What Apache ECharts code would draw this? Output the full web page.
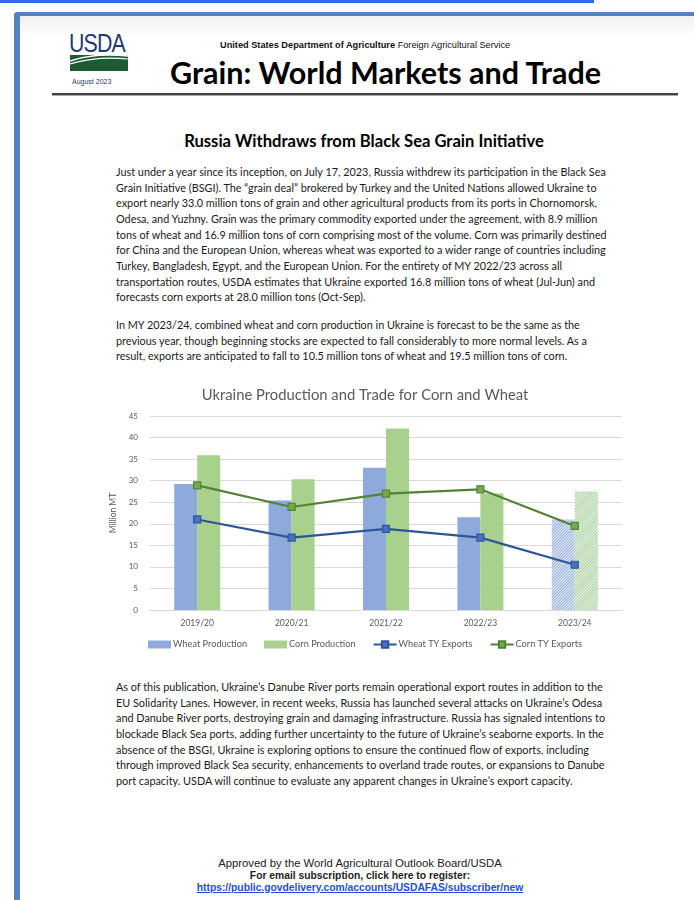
<!DOCTYPE html>
<html>
<head>
<meta charset="utf-8">
<script src="https://cdn.jsdelivr.net/npm/echarts@6/dist/echarts.min.js"></script>
<style>
  html, body { margin:0; padding:0; width:694px; height:900px; overflow:hidden; background:#fff; }
  body { position:relative; font-family: Lato, "Open Sans", sans-serif; color:#1a1a1a; }
  .abs { position:absolute; white-space:nowrap; }
  #topline { left:0; top:0; width:594px; height:3px; background:#3366ff; }
  #frame { left:14px; top:12px; width:700px; height:900px; border-left:6px solid #5183c1; border-top:4px solid #5183c1; border-top-left-radius:4px; box-sizing:border-box;
           background:linear-gradient(#f1f1f1, #fff 22px); }
  #usda { left:69px; top:28px; font-family:"Liberation Sans", Arial, sans-serif; font-size:26px; color:#1f3b6f; letter-spacing:-1px; transform:scaleX(0.82); transform-origin:left top; }
  #logo { left:70px; top:55px; }
  #aug { left:72px; top:78px; font-family:"Liberation Sans", Arial, sans-serif; font-size:7px; color:#1f3b6f; }
  #dept { left:220px; top:40px; font-family:"Liberation Sans", Arial, sans-serif; font-size:9.3px; color:#111; transform:scaleX(0.99); transform-origin:left top; }
  #gtitle { left:170px; top:54px; font-family:Lato, sans-serif; font-weight:bold; font-size:30.5px; color:#000; }
  #rule { left:52px; top:93px; width:626px; height:2px; background:#444; border-bottom:1px solid #aaa; }
  #htitle { left:0; width:694px; top:131px; text-align:center; font-weight:bold; font-size:16.6px; color:#000; padding-left:34px; box-sizing:border-box; }
  .para { left:116px; font-size:10.85px; line-height:15.65px; }
  #foot { left:0; width:694px; top:858px; text-align:center; font-family:"Liberation Sans", Arial, sans-serif; font-size:10.3px; line-height:11.8px; color:#222; padding-left:26px; box-sizing:border-box; }
  #foot .first { font-size:11.3px; }
  #foot a { color:#1f4fd6; font-weight:bold; }
  #chart { position:absolute; left:100px; top:378px; width:530px; height:282px; }
</style>
</head>
<body>
<div class="abs" id="topline"></div>
<div class="abs" id="frame"></div>
<div class="abs" id="usda">USDA</div>
<svg class="abs" id="logo" width="58" height="16" viewBox="0 0 58 16">
  <rect x="0" y="0" width="58" height="16" fill="#1e5a34"/>
  <path d="M0 6 C 18 0, 38 -1, 58 1" stroke="#fff" stroke-width="1.6" fill="none"/>
  <path d="M0 9 C 20 3, 40 2, 58 4" stroke="#fff" stroke-width="1.2" fill="none"/>
</svg>
<div class="abs" id="aug">August 2023</div>
<div class="abs" id="dept"><b>United States Department of Agriculture</b> Foreign Agricultural Service</div>
<div class="abs" id="gtitle">Grain: World Markets and Trade</div>
<div class="abs" id="rule"></div>
<div class="abs" id="htitle">Russia Withdraws from Black Sea Grain Initiative</div>

<div class="abs para" style="top:164px">Just under a year since its inception, on July 17, 2023, Russia withdrew its participation in the Black Sea<br>Grain Initiative (BSGI). The “grain deal” brokered by Turkey and the United Nations allowed Ukraine to<br>export nearly 33.0 million tons of grain and other agricultural products from its ports in Chornomorsk,<br>Odesa, and Yuzhny. Grain was the primary commodity exported under the agreement, with 8.9 million<br>tons of wheat and 16.9 million tons of corn comprising most of the volume. Corn was primarily destined<br>for China and the European Union, whereas wheat was exported to a wider range of countries including<br>Turkey, Bangladesh, Egypt, and the European Union. For the entirety of MY 2022/23 across all<br>transportation routes, USDA estimates that Ukraine exported 16.8 million tons of wheat (Jul-Jun) and<br>forecasts corn exports at 28.0 million tons (Oct-Sep).</div>

<div class="abs para" style="top:317px">In MY 2023/24, combined wheat and corn production in Ukraine is forecast to be the same as the<br>previous year, though beginning stocks are expected to fall considerably to more normal levels. As a<br>result, exports are anticipated to fall to 10.5 million tons of wheat and 19.5 million tons of corn.</div>

<div id="chart"></div>

<div class="abs para" style="top:679px">As of this publication, Ukraine’s Danube River ports remain operational export routes in addition to the<br>EU Solidarity Lanes. However, in recent weeks, Russia has launched several attacks on Ukraine’s Odesa<br>and Danube River ports, destroying grain and damaging infrastructure. Russia has signaled intentions to<br>blockade Black Sea ports, adding further uncertainty to the future of Ukraine’s seaborne exports. In the<br>absence of the BSGI, Ukraine is exploring options to ensure the continued flow of exports, including<br>through improved Black Sea security, enhancements to overland trade routes, or expansions to Danube<br>port capacity. USDA will continue to evaluate any apparent changes in Ukraine’s export capacity.</div>

<div class="abs" id="foot"><span class="first">Approved by the World Agricultural Outlook Board/USDA</span><br><b>For email subscription, click here to register:</b><br><a href="#">https://public.govdelivery.com/accounts/USDAFAS/subscriber/new</a></div>

<script>
var years = ['2019/20', '2020/21', '2021/22', '2022/23', '2023/24'];
var wheatProduction = [29.2, 25.4, 33.0, 21.5, 21.0];
var cornProduction = [35.9, 30.3, 42.1, 27.0, 27.5];
var wheatExports = [21.0, 16.8, 18.8, 16.8, 10.5];
var cornExports = [28.9, 23.9, 27.0, 28.0, 19.5];
var forecastYear = '2023/24';

var txt = '#595959';
var fnt = 'Lato, "Open Sans", sans-serif';

// forecast year gets the hatched look
function barData(values, color)
{
	return values.map(function (v, i) {
		if (years[i] !== forecastYear) return v;
		return {
			value: v,
			itemStyle: {
				color: '#eef3fa',
				decal: {
					symbol: 'rect',
					symbolSize: 1,
					dashArrayX: [[1, 0]],
					dashArrayY: [1, 1],
					rotation: -Math.PI / 4,
					color: color
				}
			}
		};
	});
}

var option = {
	animation: false,
	title: {
		text: 'Ukraine Production and Trade for Corn and Wheat',
		left: 'center',
		top: 5,
		textStyle: { color: txt, fontFamily: fnt, fontSize: 14.8, fontWeight: 'normal' }
	},
	legend: {
		bottom: 6,
		left: 'center',
		itemGap: 17,
		itemWidth: 23,
		itemHeight: 8,
		textStyle: { color: txt, fontFamily: fnt, fontSize: 9.2, padding: [0, 0, 0, -3] },
		data: [
			{ name: 'Wheat Production', icon: 'rect' },
			{ name: 'Corn Production', icon: 'rect' },
			'Wheat TY Exports',
			'Corn TY Exports'
		]
	},
	grid: { left: 50, right: 8, top: 38, bottom: 50 },
	xAxis: {
		type: 'category',
		data: years,
		axisTick: { show: false },
		axisLine: { lineStyle: { color: '#d9d9d9', width: 1 } },
		axisLabel: { color: txt, fontFamily: fnt, fontSize: 8.5, margin: 9 }
	},
	yAxis: {
		type: 'value',
		min: 0,
		max: 45,
		interval: 5,
		name: 'Million MT',
		nameLocation: 'middle',
		nameGap: 27,
		nameTextStyle: { color: txt, fontFamily: fnt, fontSize: 8.5 },
		axisLine: { show: false },
		axisTick: { show: false },
		axisLabel: { color: txt, fontFamily: fnt, fontSize: 8, margin: 12 },
		splitLine: { lineStyle: { color: '#d9d9d9', width: 1 } }
	},
	series: [
		{
			name: 'Wheat Production',
			type: 'bar',
			barWidth: 23,
			barGap: '0%',
			itemStyle: { color: '#8eaadb' },
			data: barData(wheatProduction, '#8eaadb')
		},
		{
			name: 'Corn Production',
			type: 'bar',
			barWidth: 23,
			barGap: '0%',
			itemStyle: { color: '#a9d18e' },
			data: barData(cornProduction, '#a9d18e')
		},
		{
			name: 'Wheat TY Exports',
			type: 'line',
			symbol: 'rect',
			symbolSize: 7,
			lineStyle: { color: '#2f5597', width: 2.2 },
			itemStyle: { color: '#4472c4', borderColor: '#2f5597', borderWidth: 1.2 },
			data: wheatExports
		},
		{
			name: 'Corn TY Exports',
			type: 'line',
			symbol: 'rect',
			symbolSize: 7,
			lineStyle: { color: '#548235', width: 2.2 },
			itemStyle: { color: '#70ad47', borderColor: '#548235', borderWidth: 1.2 },
			data: cornExports
		}
	]
};

var ukrChart = echarts.init(document.getElementById('chart'));
ukrChart.setOption(option);
</script>
</body>
</html>
